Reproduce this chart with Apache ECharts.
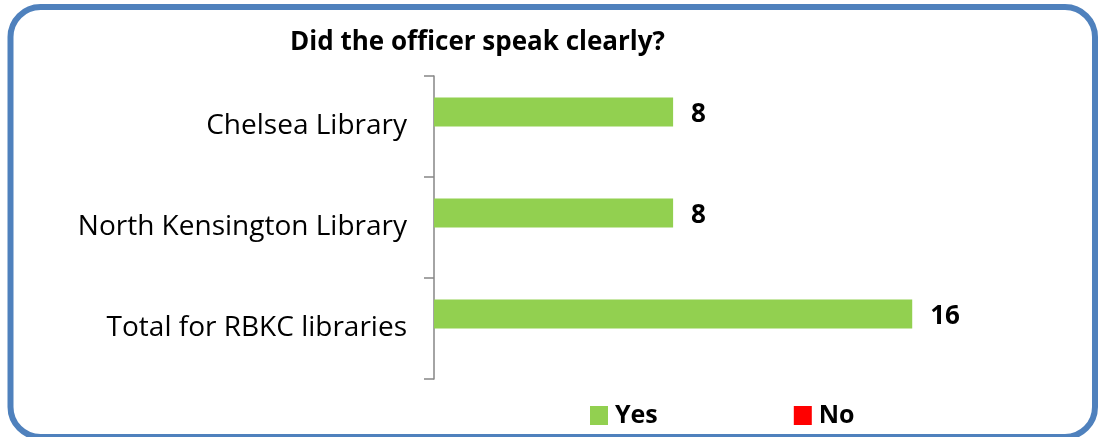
<!DOCTYPE html>
<html>
<head>
<meta charset="utf-8">
<script src="https://cdn.jsdelivr.net/npm/echarts@6/dist/echarts.min.js"></script>
<style>
  html, body { margin: 0; padding: 0; background: #fff; }
  #chart { width: 1099px; height: 437px; }
</style>
</head>
<body>
<div id="chart"></div>
<script>
const categories = ["Chelsea Library", "North Kensington Library", "Total for RBKC libraries"];
const yesValues = [8, 8, 16];
const noValues = [0, 0, 0];
const seriesNames = ["Yes", "No"];

const font = "'Open Sans', sans-serif";

const chart = echarts.init(document.getElementById("chart"));

const option = {
  animation: false,
  backgroundColor: "#fff",
  graphic: [
    {
      type: "rect",
      shape: { x: 10.5, y: 7, width: 1084.5, height: 430, r: 30 },
      style: { fill: "none", stroke: "#4F81BD", lineWidth: 6 },
      z: 100
    }
  ],
  title: {
    text: "Did the officer speak clearly?",
    left: 290,
    top: 30,
    padding: 0,
    textStyle: { fontFamily: font, fontSize: 26, fontWeight: "bold", color: "#000" }
  },
  legend: {
    data: seriesNames,
    left: 590,
    top: 403,
    padding: 0,
    icon: "rect",
    itemWidth: 18,
    itemHeight: 19,
    itemGap: 136,
    textStyle: { fontFamily: font, fontSize: 25, fontWeight: "bold", color: "#000", padding: [0, 0, 0, 2] }
  },
  grid: { left: 434, top: 76, width: 538, height: 303 },
  xAxis: {
    type: "value",
    min: 0,
    max: 18,
    show: false
  },
  yAxis: {
    type: "category",
    inverse: true,
    data: categories,
    axisLine: { lineStyle: { color: "#868686", width: 1.5 } },
    axisTick: { show: true, length: 10, lineStyle: { color: "#868686", width: 1.5 } },
    axisLabel: { margin: 27, fontFamily: font, fontSize: 28, color: "#000" }
  },
  series: [
    {
      name: "Yes",
      type: "bar",
      data: yesValues,
      barWidth: 29,
      barGap: "0%",
      itemStyle: { color: "#92D050" },
      label: {
        show: true,
        position: "right",
        distance: 18,
        offset: [0, 3],
        fontFamily: font,
        fontSize: 26,
        fontWeight: "bold",
        color: "#000"
      }
    },
    {
      name: "No",
      type: "bar",
      data: noValues,
      barWidth: 29,
      barGap: "0%",
      itemStyle: { color: "#FF0000" }
    }
  ]
};

chart.setOption(option);
</script>
</body>
</html>
